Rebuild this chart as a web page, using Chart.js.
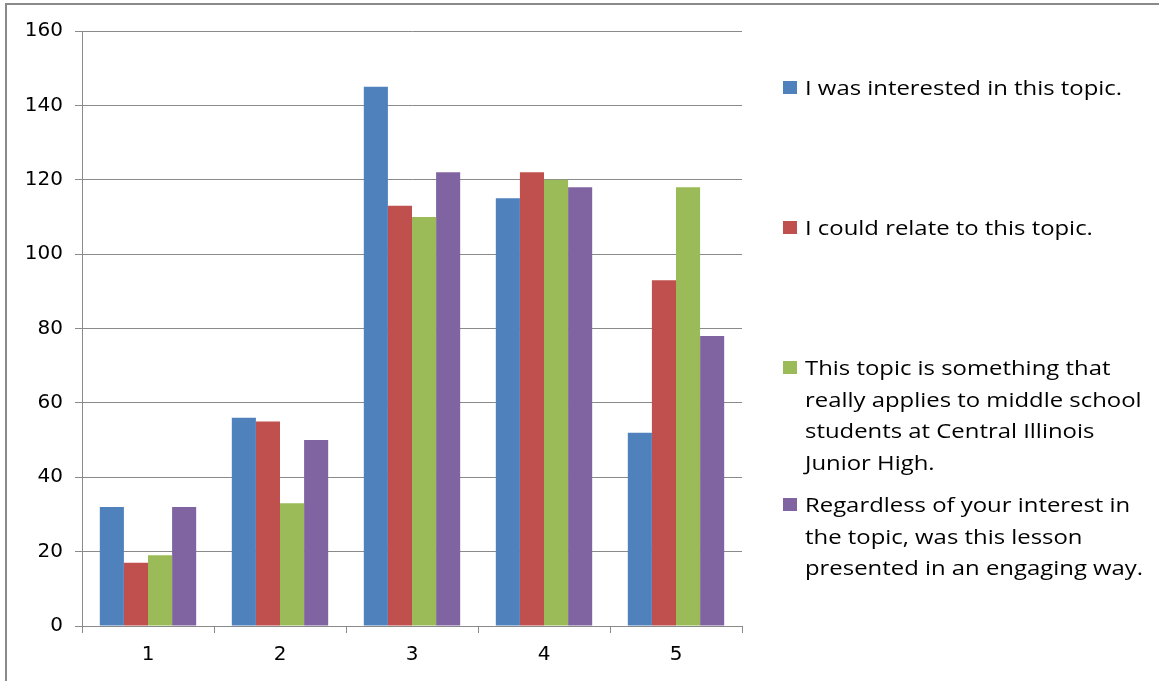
<!DOCTYPE html>
<html>
<head>
<meta charset="utf-8">
<script src="https://cdn.jsdelivr.net/npm/chart.js@4.4.1/dist/chart.umd.min.js"></script>
<style>
  html, body { margin: 0; padding: 0; background: #fff; width: 1159px; height: 681px; overflow: hidden; }
  #wrap { position: relative; width: 1159px; height: 681px; }
  #frame { position: absolute; left: 5px; top: 3px; width: 1300px; height: 900px; border: 2px solid #8a8a8a; box-sizing: border-box; pointer-events: none; }
  canvas { position: absolute; left: 0; top: 0; }
  .leg { position: absolute; left: 783px; font-family: "Open Sans", sans-serif; font-size: 20.5px; line-height: 31.5px; color: #000; }
  .leg .sw { position: absolute; left: 0; top: 9px; width: 14px; height: 13px; }
  .leg .tx { margin-left: 22px; width: 360px; white-space: nowrap; transform: scaleX(1.165); transform-origin: 0 0; }
</style>
</head>
<body>
<div id="wrap">
  <canvas id="c" width="1159" height="681"></canvas>
  <div id="frame"></div>
  <div id="legend"></div>
</div>
<script>
const categories = ["1", "2", "3", "4", "5"];
const seriesNames = [
  "I was interested in this topic.",
  "I could relate to this topic.",
  "This topic is something that really applies to middle school students at Central Illinois Junior High.",
  "Regardless of your interest in the topic, was this lesson presented in an engaging way."
];
const interested = [32, 56, 145, 115, 52];
const relate = [17, 55, 113, 122, 93];
const applies = [19, 33, 110, 120, 118];
const engaging = [32, 50, 122, 118, 78];
const colors = ["#4F81BD", "#C0504D", "#9BBB59", "#8064A2"];
const legendLines = [
  ["I was interested in this topic."],
  ["I could relate to this topic."],
  ["This topic is something that", "really applies to middle school", "students at Central Illinois", "Junior High."],
  ["Regardless of your interest in", "the topic, was this lesson", "presented in an engaging way."]
];
const legendTops = [72, 212, 352, 489];

const seriesData = [interested, relate, applies, engaging];
const datasets = seriesData.map((d, i) => ({
  label: seriesNames[i],
  data: d,
  backgroundColor: colors[i],
  borderWidth: 0,
  categoryPercentage: 0.73,
  barPercentage: 1.0
}));

new Chart(document.getElementById("c"), {
  type: "bar",
  data: { labels: categories, datasets },
  options: {
    responsive: false,
    animation: false,
    layout: { padding: { left: 0, right: 417, top: 31, bottom: 0 } },
    plugins: { legend: { display: false }, tooltip: { enabled: false } },
    scales: {
      x: {
        grid: { display: true, drawOnChartArea: false, offset: true, color: "#8a8a8a", tickLength: 7, lineWidth: 1 },
        border: { display: true, color: "#8a8a8a", width: 1 },
        ticks: { color: "#000", font: { family: "DejaVu Sans", size: 20 }, padding: 10 },
        afterFit: s => { s.height = 55; }
      },
      y: {
        min: 0, max: 160,
        ticks: { stepSize: 20, color: "#000", font: { family: "DejaVu Sans", size: 20 }, padding: 12 },
        grid: { color: "#8a8a8a", tickLength: 7, lineWidth: 1 },
        border: { display: true, color: "#8a8a8a", width: 1 },
        afterFit: s => { s.width = 82; }
      }
    }
  }
});

const leg = document.getElementById("legend");
legendLines.forEach((lines, i) => {
  const item = document.createElement("div");
  item.className = "leg";
  item.style.top = legendTops[i] + "px";
  const sw = document.createElement("div");
  sw.className = "sw";
  sw.style.background = colors[i];
  const tx = document.createElement("div");
  tx.className = "tx";
  tx.innerHTML = lines.join("<br>");
  item.appendChild(sw);
  item.appendChild(tx);
  leg.appendChild(item);
});
</script>
</body>
</html>
